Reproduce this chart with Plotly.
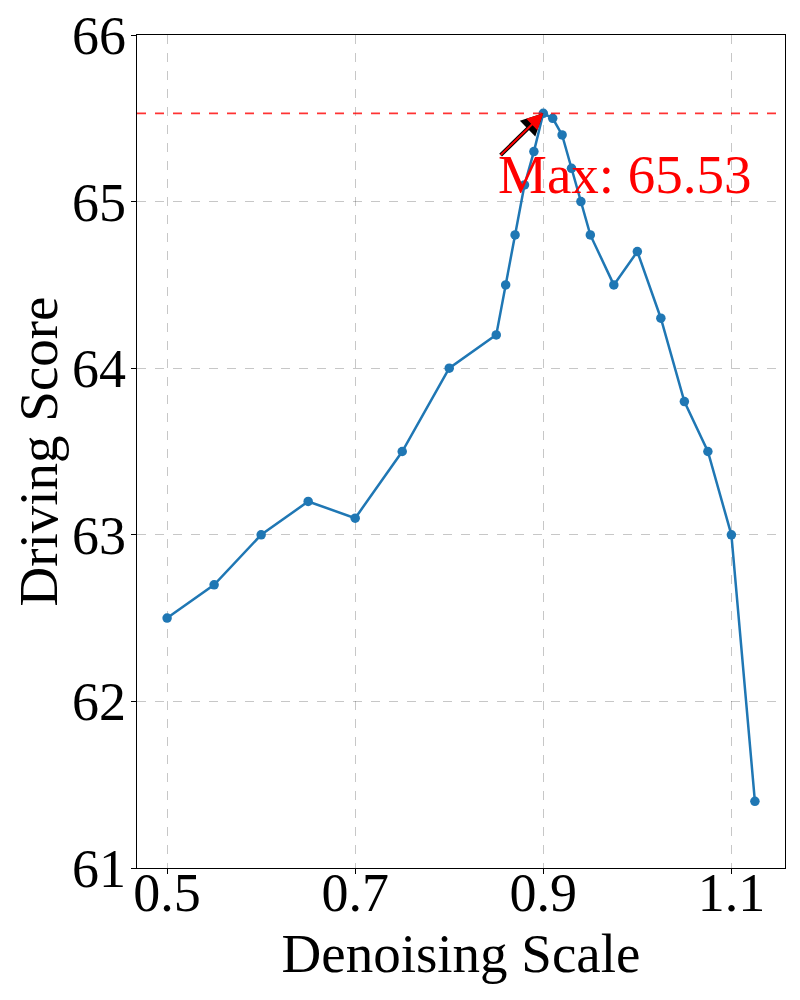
import plotly.graph_objects as go

scale = [0.5, 0.55, 0.6, 0.65, 0.7, 0.75, 0.8, 0.85, 0.86, 0.87, 0.88, 0.89, 0.9,
         0.91, 0.92, 0.93, 0.94, 0.95, 0.975, 1.0, 1.025, 1.05, 1.075, 1.1, 1.125]
score = [62.5, 62.7, 63.0, 63.2, 63.1, 63.5, 64.0, 64.2, 64.5, 64.8, 65.1, 65.3, 65.53,
         65.5, 65.4, 65.2, 65.0, 64.8, 64.5, 64.7, 64.3, 63.8, 63.5, 63.0, 61.4]

best = max(score)
best_x = scale[score.index(best)]

FONT = "Liberation Serif"

fig = go.Figure()
fig.add_trace(go.Scatter(x=scale, y=score, mode="lines+markers",
                         line=dict(color="#1f77b4", width=2.5),
                         marker=dict(color="#1f77b4", size=9.5)))

# dashed line at the maximum
fig.add_hline(y=best, line=dict(color="rgba(255,0,0,0.8)", width=1.8, dash="dash"))

# arrow: black underneath, red on top to fake the outlined head
for col, w, s in [("black", 4, 1.1), ("red", 2, 1.6)]:
    fig.add_annotation(x=best_x, y=best, ax=0.853, ay=65.27, xref="x", yref="y",
                       axref="x", ayref="y", text="", showarrow=True,
                       arrowhead=2, arrowsize=s, arrowwidth=w, arrowcolor=col)

fig.add_annotation(x=0.85, y=64.97, xref="x", yref="y", text=f"Max: {best:.2f}",
                   showarrow=False, xanchor="left", yanchor="bottom",
                   font=dict(family=FONT, size=55, color="red"))

axis = dict(showline=True, linecolor="black", linewidth=1.2, mirror=True,
            ticks="outside", ticklen=5, tickcolor="black", automargin=False,
            ticklabeloverflow="allow",
            showgrid=True, gridcolor="rgba(0,0,0,0.22)", griddash="dash", gridwidth=1,
            zeroline=False, tickfont=dict(family=FONT, size=54, color="black"),
            title_font=dict(family=FONT, size=55, color="black"))

fig.update_xaxes(axis, range=[0.468, 1.157], tickvals=[0.5, 0.7, 0.9, 1.1],
                 ticktext=["0.5", "0.7", "0.9", "1.1"], ticklabelstandoff=-28,
                 title_text="Denoising Scale", title_standoff=10)
fig.update_yaxes(axis, range=[61, 66], dtick=1, ticklabelstandoff=-6,
                 title_text="Driving Score", title_standoff=20)

# page body adds 8px around the div, so shrink the figure to fit the window
fig.update_layout(width=784, height=984, plot_bgcolor="white", paper_bgcolor="white",
                  showlegend=False, margin=dict(l=129, r=7, t=27, b=124))

fig.write_html("out.html")
